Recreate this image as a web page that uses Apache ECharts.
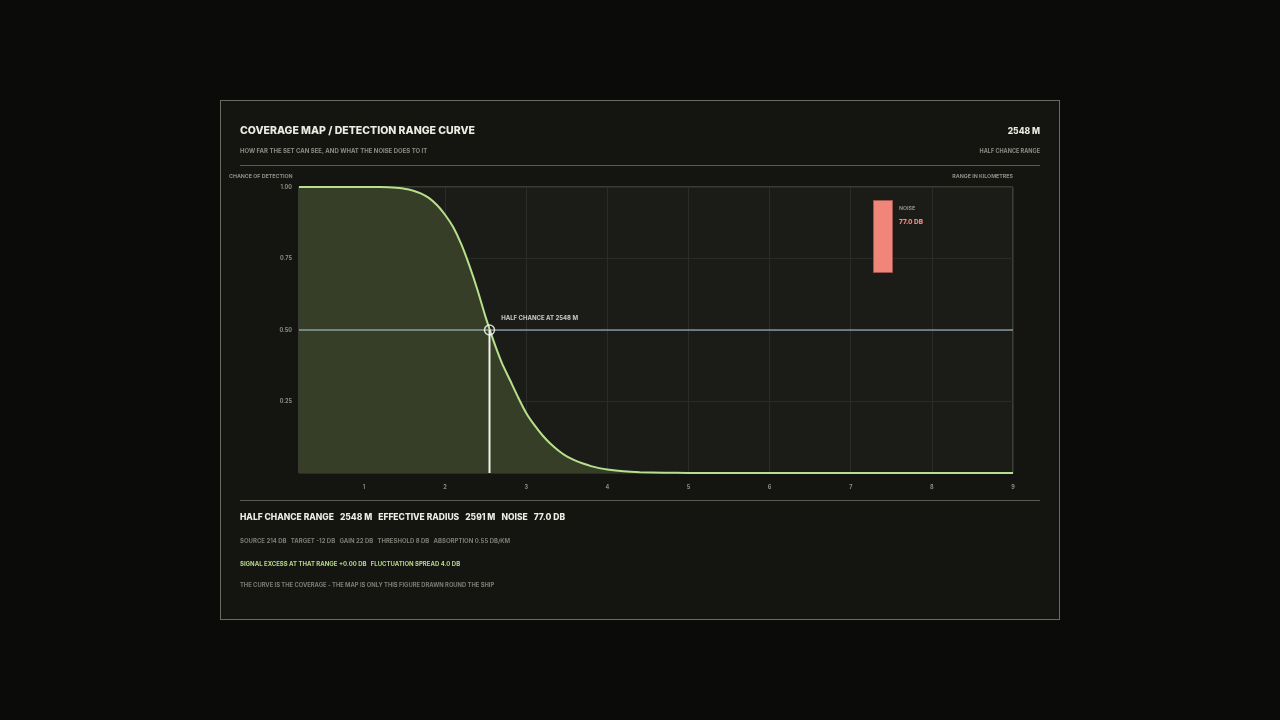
<!DOCTYPE html>
<html>
<head>
<meta charset="utf-8">
<script src="https://cdn.jsdelivr.net/npm/echarts@6/dist/echarts.min.js"></script>
<style>
    html, body { margin: 0; padding: 0; background: #0b0b0a; }
    #card {
        position: absolute; left: 220px; top: 100px; width: 838px; height: 518px;
        border: 1.5px solid #6a6c61; background: #141411;
    }
    #chart { position: absolute; left: 0; top: 0; width: 1280px; height: 720px; }
</style>
</head>
<body>
<div id="card"></div>
<div id="chart"></div>
<script>
// range in km, chance of detection
const rangeKm = [0.2, 0.6, 1.0, 1.2, 1.3, 1.4, 1.5, 1.6, 1.7, 1.8, 1.9, 2.0, 2.1, 2.2, 2.3, 2.4, 2.5, 2.6, 2.7, 2.8, 2.9, 3.0, 3.1, 3.2, 3.3, 3.4, 3.5, 3.6, 3.7, 3.8, 3.9, 4.0, 4.2, 4.4, 4.7, 5.0, 6.0, 7.0, 8.0, 9.0];
const detection = [1.0, 1.0, 1.0, 1.0, 0.999, 0.997, 0.994, 0.988, 0.978, 0.962, 0.937, 0.903, 0.86, 0.80, 0.725, 0.64, 0.545, 0.46, 0.385, 0.325, 0.265, 0.21, 0.168, 0.132, 0.102, 0.078, 0.058, 0.044, 0.033, 0.024, 0.017, 0.012, 0.006, 0.003, 0.001, 0.0004, 0, 0, 0, 0];
const xTicks = [1, 2, 3, 4, 5, 6, 7, 8, 9];
const halfChanceKm = 2.548;
const halfChanceLevel = 0.5;
const noiseDb = [77.0];

const headLabels = ['HALF CHANCE RANGE', 'EFFECTIVE RADIUS', 'NOISE'];
const headValues = ['2548 M', '2591 M', '77.0 DB'];
const paramText = ['SOURCE 214 DB', 'TARGET -12 DB', 'GAIN 22 DB', 'THRESHOLD 8 DB', 'ABSORPTION 0.55 DB/KM'];
const excessText = ['SIGNAL EXCESS AT THAT RANGE +0.00 DB', 'FLUCTUATION SPREAD 4.0 DB'];

const FONT = 'Inter';
const GREY = '#8c8d84';

let curve = [];
for (let i = 0; i < rangeKm.length; i++) {
    curve.push([rangeKm[i], detection[i]]);
}

function txt(x, y, text, size, fill, align, weight) {
    return {
        type: 'text', x: x, y: y, silent: true,
        style: {
            text: text, fill: fill,
            font: (weight || 'bold') + ' ' + size + 'px ' + FONT,
            textAlign: align || 'left', textVerticalAlign: 'middle'
        }
    };
}

let head = headLabels.map(function (l, i) {
    return '{l|' + l + '}{v|' + headValues[i] + '}';
}).join('');

let myChart = echarts.init(document.getElementById('chart'));
let option = {
    backgroundColor: 'transparent',
    animation: false,
    grid: [{
        left: 299, top: 187, width: 714, height: 286,
        show: true, backgroundColor: '#1b1b18', borderColor: '#5e6057', borderWidth: 1
    }, {
        left: 873, top: 200, width: 20, height: 73
    }],
    xAxis: [{
        type: 'value', min: 0.2, max: 9,
        axisLine: { show: false },
        axisTick: { show: false, customValues: xTicks },
        axisLabel: { customValues: xTicks, color: GREY, fontFamily: FONT, fontWeight: 'bold', fontSize: 5.5, margin: 11 },
        splitLine: { show: true, lineStyle: { color: '#2b2c27', width: 1 } }
    }, {
        type: 'category', gridIndex: 1, data: ['NOISE'], show: false
    }],
    yAxis: [{
        type: 'value', min: 0, max: 1, interval: 0.25,
        axisLine: { show: false },
        axisTick: { show: false },
        axisLabel: {
            color: GREY, fontFamily: FONT, fontWeight: 'bold', fontSize: 5.5, margin: 7,
            formatter: function (v) { return v === 0 ? '' : v.toFixed(2); }
        },
        splitLine: { show: true, lineStyle: { color: '#2b2c27', width: 1 } }
    }, {
        type: 'value', gridIndex: 1, min: 0, max: noiseDb[0], show: false
    }],
    series: [{
        type: 'line', data: curve, smooth: 0.25, showSymbol: false,
        lineStyle: { color: '#b7e08c', width: 2 },
        areaStyle: { color: '#363e27', opacity: 1 },
        z: 2
    }, {
        type: 'line', data: [[0.2, halfChanceLevel], [9, halfChanceLevel]], showSymbol: false,
        lineStyle: { color: '#afd0e2', width: 1.2 }, z: 3
    }, {
        type: 'line', data: [[halfChanceKm, 0], [halfChanceKm, halfChanceLevel]], showSymbol: false,
        lineStyle: { color: '#f2f2ea', width: 2 }, z: 4
    }, {
        type: 'scatter', data: [[halfChanceKm, halfChanceLevel]], symbol: 'circle', symbolSize: 10,
        itemStyle: { color: 'rgba(0,0,0,0)', borderColor: '#ffffff', borderWidth: 1.5 },
        label: {
            show: true, position: 'right', offset: [1, -12],
            formatter: 'HALF CHANCE AT ' + Math.round(halfChanceKm * 1000) + ' M',
            color: '#f4f4ee', fontFamily: FONT, fontWeight: 'bold', fontSize: 6
        },
        z: 5
    }, {
        type: 'bar', xAxisIndex: 1, yAxisIndex: 1, data: noiseDb, barWidth: '100%',
        itemStyle: { color: '#f0857a', borderColor: '#9e554d', borderWidth: 1 }
    }],
    graphic: [
        txt(240, 131, 'COVERAGE MAP / DETECTION RANGE CURVE', 10.5, '#ecece4', 'left', '800'),
        txt(240, 151, 'HOW FAR THE SET CAN SEE, AND WHAT THE NOISE DOES TO IT', 6, GREY),
        txt(1040, 131, headValues[0], 8.5, '#ecece4', 'right', '800'),
        txt(1040, 151, headLabels[0], 5.5, GREY, 'right'),
        { type: 'rect', silent: true, shape: { x: 240, y: 165, width: 800, height: 1 }, style: { fill: '#5a5c52' } },
        { type: 'rect', silent: true, shape: { x: 240, y: 500, width: 800, height: 1 }, style: { fill: '#5a5c52' } },
        txt(229, 176, 'CHANCE OF DETECTION', 5.3, GREY),
        txt(1013, 176, 'RANGE IN KILOMETRES', 5.3, GREY, 'right'),
        txt(899, 208, 'NOISE', 5.3, GREY),
        txt(899, 222, noiseDb[0].toFixed(1) + ' DB', 6.5, '#f28a80', 'left', '800'),
        {
            type: 'text', x: 240, y: 517, silent: true,
            style: {
                text: head, textVerticalAlign: 'middle',
                rich: {
                    l: { fill: '#ecece4', font: '800 8.5px ' + FONT, padding: [0, 6, 0, 0] },
                    v: { fill: '#ecece4', font: '800 8.5px ' + FONT, padding: [0, 6, 0, 0] }
                }
            }
        },
        txt(240, 541, paramText.join('   '), 6, '#7c7d75'),
        txt(240, 564, excessText.join('   '), 6, '#b5d98a'),
        txt(240, 585, 'THE CURVE IS THE COVERAGE - THE MAP IS ONLY THIS FIGURE DRAWN ROUND THE SHIP', 5.8, '#7c7d75')
    ]
};

option && myChart.setOption(option);
</script>
</body>
</html>
